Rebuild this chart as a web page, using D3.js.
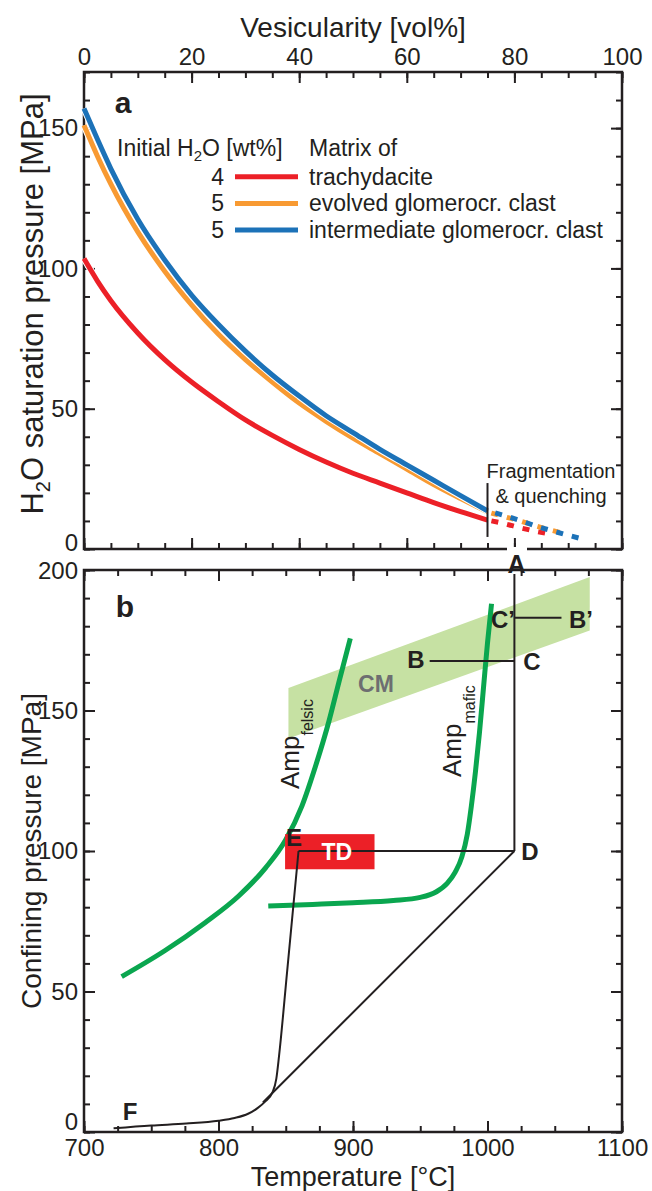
<!DOCTYPE html>
<html>
<head>
<meta charset="utf-8">
<script src="https://cdn.jsdelivr.net/npm/d3@7"></script>
<style>
  body { margin: 0; background: #fff; }
  svg { display: block; }
  text { font-family: "Liberation Sans", Arial, Helvetica, sans-serif; fill: #231f20; }
</style>
</head>
<body>
<svg id="chart" width="652" height="1191"></svg>
<script>
// ---------- Panel a: H2O saturation pressure vs vesicularity ----------
const vesSolid = [0, 2.5, 5, 10, 15, 20, 25, 30, 35, 40, 45, 50, 55, 60, 65, 70, 75];
const pTrachydacite = [103.5, 95.5, 88.5, 77, 67.5, 59.5, 52.5, 46, 40.5, 35.5, 31, 27, 23.5, 20, 16.5, 13.3, 10.3];
const pEvolved      = [151, 140, 130, 113, 99, 87, 76.5, 67.5, 59.5, 52, 45.5, 39.5, 34, 28.5, 23, 18, 13.2];
const pIntermediate = [157, 146, 135.5, 117.5, 103, 90.5, 80, 70.5, 62, 54.5, 47.5, 41.5, 35.5, 30, 24.5, 19, 13.6];

// continuation beyond fragmentation (drawn dotted)
const vesTailTrachy = [75, 78, 81, 84, 87];
const pTailTrachy   = [10.3, 9.1, 7.6, 6.3, 5.2];
const vesTailEvolved = [75, 78, 81, 84, 87, 90];
const pTailEvolved   = [13.2, 11.6, 10, 8.2, 6.6, 5.2];
const vesTailInter   = [75, 78, 81, 84, 87, 90, 93];
const pTailInter     = [13.6, 12, 10.2, 8.2, 6.5, 4.9, 3.4];

const seriesNames = ["trachydacite", "evolved glomerocr. clast", "intermediate glomerocr. clast"];
const initialH2O = ["4", "5", "5"];
const seriesColors = ["#ec2027", "#f89a32", "#1c72b8"];
const fragmentationVes = 75;
const fragmentationP = [4.3, 23.5];

// ---------- Panel b: P-T paths ----------
const ampFelsicT = [728, 760, 790, 815, 835, 850, 862, 872, 882, 890, 898];
const ampFelsicP = [55.3, 64.5, 74.5, 84, 94, 104, 116, 130, 146, 161, 175.7];
const ampMaficT = [837, 870, 900, 930, 950, 962, 970, 976, 981, 985, 988, 991, 994, 997, 1000, 1003];
const ampMaficP = [80.4, 81, 81.6, 82.4, 83.5, 85.5, 88.5, 92.5, 98, 106, 116, 128, 142, 158, 174, 188];
const cmBandT = [852, 1076, 1076, 852];
const cmBandP = [158, 197.5, 178.5, 140];
const tdBoxT = [849.5, 916];
const tdBoxP = [93.5, 106];
// cooling / decompression path E -> F
const pathEFT = [722, 750, 776, 800, 812, 822, 829, 835, 840, 843, 845, 851, 859.5];
const pathEFP = [1.3, 2.3, 3.0, 4.0, 5.0, 6.5, 8.5, 11, 14, 19, 27, 57, 100];
// labelled path nodes
const nodeNames = ["A", "B", "C", "C\u2019", "B\u2019", "D", "E", "F"];
const nodeT = [1020, 957, 1020, 1020, 1055, 1020, 859.5, 722];
const nodeP = [200, 167.6, 167.6, 183, 183, 100, 100, 1.3];
const mergeT = 833, mergeP = 10.5;

const tempTicks = [700, 800, 900, 1000, 1100];
const vesTicks = [0, 20, 40, 60, 80, 100];

// ---------- layout ----------
const svg = d3.select("#chart");
const L = 84, R = 622;
const aTop = 72, aBot = 549, bTop = 570, bBot = 1132;
const ink = "#231f20";

const xa = d3.scaleLinear().domain([0, 100]).range([L, R]);
const ya = d3.scaleLinear().domain([0, 170]).range([aBot, aTop]);
const xb = d3.scaleLinear().domain([700, 1100]).range([L, R]);
const yb = d3.scaleLinear().domain([0, 200]).range([bBot, bTop]);

// inward ticks (major + minor) on all four sides of a panel
function drawAxes(x, y, top, bot, xMajor, xMinor, yMajor, yMinor, labelTop, labelBottom) {
  const g = svg.append("g");
  const add = (axis, tx, ty, len, vals, labels, pad) => {
    const a = g.append("g").attr("transform", `translate(${tx},${ty})`)
      .call(axis.tickValues(vals).tickSize(-len).tickPadding(pad)
        .tickFormat(labels ? d3.format("d") : () => ""));
    a.select(".domain").remove();
    a.selectAll("line").attr("stroke", ink).attr("stroke-width", 2);
    a.selectAll("text").attr("font-size", 24).attr("fill", ink)
      .attr("font-family", '"Liberation Sans", Arial, sans-serif');
    return a;
  };
  const res = {};
  res.top = add(d3.axisTop(x), 0, top, 11, xMajor, labelTop, 7);
  add(d3.axisTop(x), 0, top, 6, xMinor, false, 0);
  res.bottom = add(d3.axisBottom(x), 0, bot, 11, xMajor, labelBottom, 7);
  add(d3.axisBottom(x), 0, bot, 6, xMinor, false, 0);
  res.left = add(d3.axisLeft(y), L, 0, 11, yMajor, true, 6);
  add(d3.axisLeft(y), L, 0, 6, yMinor, false, 0);
  add(d3.axisRight(y), R, 0, 11, yMajor, false, 0);
  add(d3.axisRight(y), R, 0, 6, yMinor, false, 0);
  g.append("rect").attr("x", L).attr("y", top).attr("width", R - L).attr("height", bot - top)
    .attr("fill", "none").attr("stroke", ink).attr("stroke-width", 2.5);
  return res;
}

const minorRange = (a, b, s) => d3.range(a, b + 1e-9, s);

// ================= Panel a =================
const axA = drawAxes(xa, ya, aTop, aBot, vesTicks, minorRange(0, 100, 5), [0, 50, 100, 150], minorRange(0, 170, 10), true, false);
axA.left.selectAll(".tick").filter(d => d === 0).select("text").attr("dy", "0").attr("y", 1);

const lineA = d3.line().x(d => xa(d[0])).y(d => ya(d[1])).curve(d3.curveMonotoneX);
const solidSeries = [pTrachydacite, pEvolved, pIntermediate].map(p => vesSolid.map((v, i) => [v, p[i]]));
const tailSeries = [
  vesTailTrachy.map((v, i) => [v, pTailTrachy[i]]),
  vesTailEvolved.map((v, i) => [v, pTailEvolved[i]]),
  vesTailInter.map((v, i) => [v, pTailInter[i]])
];
const gA = svg.append("g");
solidSeries.forEach((s, i) => {
  gA.append("path").attr("d", lineA(s)).attr("fill", "none").attr("stroke", "#fff").attr("stroke-width", 7);
  gA.append("path").attr("d", lineA(s)).attr("fill", "none").attr("stroke", seriesColors[i]).attr("stroke-width", 5);
});
const dashOffsets = [0, 0, 4];
tailSeries.forEach((s, i) => {
  gA.append("path").attr("d", lineA(s)).attr("fill", "none").attr("stroke", seriesColors[i])
    .attr("stroke-width", 5).attr("stroke-dasharray", "7,9").attr("stroke-dashoffset", -4 - dashOffsets[i]);
});
// fragmentation marker
gA.append("line").attr("x1", xa(fragmentationVes)).attr("x2", xa(fragmentationVes))
  .attr("y1", ya(fragmentationP[0])).attr("y2", ya(fragmentationP[1])).attr("stroke", ink).attr("stroke-width", 2);
gA.append("text").attr("x", 551).attr("y", 478).attr("text-anchor", "middle").attr("font-size", 20).text("Fragmentation");
gA.append("text").attr("x", 551).attr("y", 503).attr("text-anchor", "middle").attr("font-size", 20).text("& quenching");

// legend
const lg = svg.append("g").attr("font-size", 23);
const hdr = lg.append("text").attr("x", 117).attr("y", 156);
hdr.append("tspan").text("Initial H");
hdr.append("tspan").attr("font-size", 15).attr("dy", 5).text("2");
hdr.append("tspan").attr("dy", -5).text("O [wt%]");
lg.append("text").attr("x", 309).attr("y", 156).text("Matrix of");
seriesNames.forEach((name, i) => {
  const yy = 176.7 + i * 26.7;
  lg.append("text").attr("x", 224).attr("y", yy + 8).attr("text-anchor", "end").text(initialH2O[i]);
  lg.append("line").attr("x1", 235).attr("x2", 298).attr("y1", yy).attr("y2", yy)
    .attr("stroke", seriesColors[i]).attr("stroke-width", 5);
  lg.append("text").attr("x", 309).attr("y", yy + 8).text(name);
});

svg.append("text").attr("x", 123).attr("y", 113).attr("text-anchor", "middle")
  .attr("font-size", 30).attr("font-weight", "bold").text("a");

// axis titles, panel a
svg.append("text").attr("x", (L + R) / 2).attr("y", 37).attr("text-anchor", "middle")
  .attr("font-size", 28).text("Vesicularity [vol%]");
const ttlA = svg.append("text").attr("transform", "translate(43,304) rotate(-90)")
  .attr("text-anchor", "middle").attr("font-size", 31);
ttlA.append("tspan").text("H");
ttlA.append("tspan").attr("font-size", 20).attr("dy", 7).text("2");
ttlA.append("tspan").attr("dy", -7).text("O saturation pressure [MPa]");

// ================= Panel b =================
const gB = svg.append("g");
// CM band
gB.append("polygon")
  .attr("points", cmBandT.map((t, i) => [xb(t), yb(cmBandP[i])].join(",")).join(" "))
  .attr("fill", "#c6e1a3");
gB.append("text").attr("x", 376).attr("y", 692).attr("text-anchor", "middle")
  .attr("font-size", 23).attr("font-weight", "bold").style("fill", "#6d6e71").text("CM");

const axB = drawAxes(xb, yb, bTop, bBot, tempTicks, minorRange(700, 1100, 25), [0, 50, 100, 150, 200], minorRange(0, 200, 10), false, true);
axB.left.selectAll(".tick").filter(d => d === 200).select("text").attr("dy", "0").attr("y", 8);
axB.left.selectAll(".tick").filter(d => d === 0).select("text").attr("dy", "0").attr("y", -3);

// amphibole stability curves
const lineB = d3.line().x(d => xb(d[0])).y(d => yb(d[1])).curve(d3.curveMonotoneX);
const green = "#0aa64f";
gB.append("path").attr("d", lineB(ampFelsicT.map((t, i) => [t, ampFelsicP[i]])))
  .attr("fill", "none").attr("stroke", green).attr("stroke-width", 5);
gB.append("path").attr("d", lineB(ampMaficT.map((t, i) => [t, ampMaficP[i]])))
  .attr("fill", "none").attr("stroke", green).attr("stroke-width", 5);

// TD box
gB.append("rect").attr("x", xb(tdBoxT[0])).attr("y", yb(tdBoxP[1]))
  .attr("width", xb(tdBoxT[1]) - xb(tdBoxT[0])).attr("height", yb(tdBoxP[0]) - yb(tdBoxP[1]))
  .attr("fill", "#ec2027");

// black P-T paths
const pathStyle = sel => sel.attr("fill", "none").attr("stroke", ink).attr("stroke-width", 2);
const A = 0, B = 1, C = 2, C2 = 3, B2 = 4, D = 5, E = 6;
const seg = (i, j) => gB.append("line").attr("x1", xb(nodeT[i])).attr("y1", yb(nodeP[i]))
  .attr("x2", xb(nodeT[j])).attr("y2", yb(nodeP[j])).call(pathStyle);
seg(A, D); seg(B, C); seg(C2, B2); seg(E, D);
gB.append("line").attr("x1", xb(nodeT[D])).attr("y1", yb(nodeP[D]))
  .attr("x2", xb(mergeT)).attr("y2", yb(mergeP)).call(pathStyle);
gB.append("path").attr("d", lineB(pathEFT.map((t, i) => [t, pathEFP[i]]))).call(pathStyle);

gB.append("text").attr("x", xb(888)).attr("y", 860).attr("text-anchor", "middle")
  .attr("font-size", 23).attr("font-weight", "bold").style("fill", "#fff").text("TD");

// node labels
const nodeLabel = (txt, x, y, anchor) => gB.append("text").attr("x", x).attr("y", y)
  .attr("text-anchor", anchor || "middle").attr("font-size", 24).attr("font-weight", "bold").text(txt);
// A sits on the frame with a white knock-out
gB.append("rect").attr("x", 507).attr("y", 547).attr("width", 20).attr("height", 27).attr("fill", "#fff");
nodeLabel(nodeNames[0], 516.5, 573).attr("font-size", 25);
nodeLabel(nodeNames[1], 416, 668);
nodeLabel(nodeNames[2], 532, 670);
nodeLabel(nodeNames[3], 503, 628);
nodeLabel(nodeNames[4], 581, 628);
nodeLabel(nodeNames[5], 530, 860);
nodeLabel(nodeNames[6], 286, 846, "start");
nodeLabel(nodeNames[7], 130, 1120);

// rotated amphibole labels
function ampLabel(x, y, sub) {
  const t = gB.append("text").attr("transform", `translate(${x},${y}) rotate(-90)`).attr("font-size", 26);
  t.append("tspan").text("Amp");
  t.append("tspan").attr("font-size", 16).attr("dy", 14).text(sub);
}
ampLabel(299, 789, "felsic");
ampLabel(461, 777, "mafic");

svg.append("text").attr("x", 125).attr("y", 617).attr("text-anchor", "middle")
  .attr("font-size", 30).attr("font-weight", "bold").text("b");

// axis titles, panel b
svg.append("text").attr("x", (L + R) / 2).attr("y", 1186).attr("text-anchor", "middle")
  .attr("font-size", 27).text("Temperature [\u00B0C]");
svg.append("text").attr("transform", `translate(41,${(bTop + bBot) / 2}) rotate(-90)`)
  .attr("text-anchor", "middle").attr("font-size", 28).text("Confining pressure [MPa]");
</script>
</body>
</html>
